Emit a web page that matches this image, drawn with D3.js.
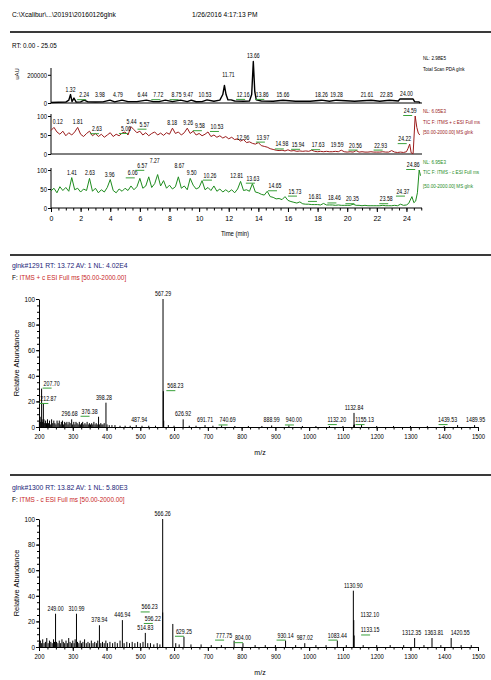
<!DOCTYPE html>
<html><head><meta charset="utf-8">
<script src="https://cdn.jsdelivr.net/npm/d3@7"></script>
<style>
body{margin:0;background:#fff;}
svg text{font-family:"Liberation Sans",Arial,sans-serif;}
</style></head><body><script>
// ================= DATA =================
const headerLeft = "C:\\Xcalibur\\...\\20191\\20160126glnk";
const headerDate = "1/26/2016 4:17:13 PM";
const rtRange = "RT: 0.00 - 25.05";
const timeTicks = [0,2,4,6,8,10,12,14,16,18,20,22,24];
const timeMinorTicks = [0,0.5,1,1.5,2,2.5,3,3.5,4,4.5,5,5.5,6,6.5,7,7.5,8,8.5,9,9.5,10,10.5,11,11.5,12,12.5,13,13.5,14,14.5,15,15.5,16,16.5,17,17.5,18,18.5,19,19.5,20,20.5,21,21.5,22,22.5,23,23.5,24,24.5,25];

// Panel 1: Total Scan PDA (time, uAU)
const ticTrace = [[0,4000],[0.5,5000],[1.0,6000],[1.2,20000],[1.32,60000],[1.42,10000],[1.55,35000],[1.7,6000],[2.0,8000],[2.24,20000],[2.5,8000],[3.0,7000],[3.5,8000],[3.98,20000],[4.3,8000],[4.79,20000],[5.2,10000],[5.8,10000],[6.44,20000],[6.9,10000],[7.3,10000],[7.72,20000],[8.2,10000],[8.75,20000],[9.2,10000],[9.47,20000],[9.8,9000],[10.2,10000],[10.53,22000],[11.0,12000],[11.4,20000],[11.6,60000],[11.71,125000],[11.82,60000],[11.95,22000],[12.16,22000],[12.4,14000],[13.0,12000],[13.4,14000],[13.55,60000],[13.66,295000],[13.76,80000],[13.86,22000],[14.2,14000],[15.0,12000],[15.66,20000],[16.5,12000],[17.5,12000],[18.26,20000],[18.8,12000],[19.28,20000],[20.5,12000],[21.61,20000],[22.2,12000],[22.85,20000],[23.45,14000],[23.55,28000],[24.00,28000],[24.45,28000],[24.55,10000],[24.85,8000],[24.92,0]];
const ticLabels = [1.32,2.24,3.98,4.79,6.44,7.72,8.75,9.47,10.53,11.71,12.16,13.66,13.86,15.66,18.26,19.28,21.61,22.85,24.00];
const ticInfo = ["NL: 2.98E5","Total Scan PDA glnk"];
const ticTicks = [0,200000];

// Panel 2 / 3: relative abundance sampled every 0.2 min from 0 to 24.0
const traceStep = 0.2;
const esPosValues = [62,70,58,52,60,48,56,50,58,70,
52,46,54,60,48,54,46,52,44,50,
56,46,52,48,55,58,50,72,64,56,
60,50,56,48,54,58,50,55,49,56,
52,68,54,58,50,56,68,54,60,50,
54,48,52,58,46,50,44,48,42,46,
40,44,38,40,34,38,30,32,28,26,
30,22,20,18,14,12,10,9,10,8,
11,8,9,7,8,7,8,7,10,7,
6,7,6,7,6,6,7,6,10,6,
5,6,5,9,5,6,5,5,6,5,
5,5,6,5,5,9,5,4,5,4,
6];
const esPosTail = [[24.1,14],[24.22,26],[24.32,3],[24.45,1],[24.59,100],[24.7,70],[24.8,55],[24.9,50]];
const esPosLabels = [0.12,1.81,2.63,5.06,5.44,5.57,8.18,9.26,9.58,10.53,12.96,13.97,14.98,15.94,17.63,19.59,20.56,22.93,24.22,24.59];
const esPosInfo = ["NL: 6.05E3","TIC F: ITMS + c ESI Full ms","[50.00-2000.00] MS glnk"];

const esNegValues = [45,52,40,56,46,54,44,80,48,52,
42,50,46,78,44,52,40,48,42,54,
75,46,40,50,44,52,46,58,48,56,
78,52,58,82,54,64,88,58,72,52,
60,50,56,82,52,58,48,78,60,50,
54,72,48,54,46,58,44,50,42,48,
42,48,40,50,70,46,48,44,64,42,
40,36,34,44,30,28,24,25,22,30,
20,17,15,13,16,11,10,10,9,9,
9,8,12,8,8,8,7,8,7,7,
7,7,10,7,7,6,7,6,6,6,
6,6,7,6,6,6,7,6,10,7,
8];
const esNegTail = [[24.15,12],[24.37,30],[24.5,14],[24.62,18],[24.74,40],[24.86,100],[24.95,85]];
const esNegLabels = [1.41,2.63,3.96,6.06,6.57,7.27,8.67,9.50,10.26,12.81,13.63,14.65,15.73,16.81,18.46,20.35,23.58,24.37,24.86];
const esNegInfo = ["NL: 6.95E3","TIC F: ITMS - c ESI Full ms","[50.00-2000.00] MS glnk"];
const pctTicks = [0,50,100];

// Mass spectra (m/z, relative abundance %)
const mzTicks = [200,300,400,500,600,700,800,900,1000,1100,1200,1300,1400,1500];
const abundTicks = [0,20,40,60,80,100];

const spec1Title = "glnk#1291  RT: 13.72  AV: 1  NL: 4.02E4";
const spec1Filter = "ITMS + c ESI Full ms [50.00-2000.00]";
const spec1Peaks = [[201.2,5],[203.4,8],[205.0,4],[207.70,30],[209.1,6],[211.0,4],[212.87,18],[214.6,6],[216.8,3],[219.5,5],[222.3,3],[225.1,6],[228.0,3],[231.2,5],[234.5,2],[237.3,6],[240.6,3],[243.9,5],[247.0,3],[250.2,2],[253.5,5],[256.7,3],[260.1,5],[263.0,2],[266.2,4],[269.5,5],[272.8,2],[276.0,4],[279.4,3],[282.6,4],[285.9,2],[289.0,4],[292.3,3],[296.68,6],[299.6,2],[303.0,4],[306.2,2],[309.5,4],[312.8,3],[316.0,2],[319.4,4],[322.7,2],[326.0,3],[329.3,4],[332.6,2],[336.0,3],[339.2,2],[342.5,4],[346.0,2],[349.3,3],[352.6,2],[356.0,3],[359.2,2],[362.5,4],[366.0,2],[369.3,3],[372.5,2],[376.38,8],[379.6,2],[383.0,3],[386.3,2],[389.5,2],[393.0,3],[398.28,19],[401.5,2],[408.0,1.5],[416.0,1.5],[425.0,1.5],[440.0,1],[455.0,1],[470.0,1],[487.94,1.5],[505,1],[525,1],[545,1],[567.29,100],[568.23,28],[569.3,5],[583.0,1.5],[600.0,1],[626.92,6],[645,1],[665,1],[691.71,1.5],[715,1],[740.69,1.2],[780,0.8],[820,0.8],[860,0.8],[888.99,1.2],[940.00,1.2],[980,0.8],[1020,0.8],[1060,0.8],[1100,0.8],[1132.20,1.5],[1132.84,11],[1134.0,2],[1155.13,1.5],[1200,0.8],[1250,0.8],[1300,0.8],[1350,0.8],[1400,0.8],[1439.53,1.5],[1489.95,1.5]];
const spec1Labels = [207.70,212.87,296.68,376.38,398.28,487.94,567.29,568.23,626.92,691.71,740.69,888.99,940.00,1132.20,1132.84,1155.13,1439.53,1489.95];

const spec2Title = "glnk#1300  RT: 13.82  AV: 1  NL: 5.80E3";
const spec2Filter = "ITMS - c ESI Full ms [50.00-2000.00]";
const spec2Peaks = [[201,3],[204,5],[207,3],[211,6],[215,3],[219,4],[223,7],[227,3],[231,5],[235,4],[239,3],[243,6],[246,4],[249.00,26],[252,4],[256,3],[260,5],[264,3],[268,6],[272,4],[276,3],[280,5],[284,3],[288,7],[292,4],[296,3],[300,5],[304,3],[307,6],[310.99,26],[314,4],[318,3],[322,5],[326,3],[330,4],[335,6],[340,3],[345,4],[350,3],[355,5],[360,3],[365,4],[370,3],[374,5],[378.94,17],[383,3],[388,4],[393,3],[398,5],[403,3],[410,4],[418,3],[425,4],[432,3],[440,5],[446.94,21],[452,3],[460,4],[468,3],[476,4],[484,3],[492,4],[500,3],[508,4],[514.83,11],[522,3],[530,3],[540,2],[550,3],[558,2],[566.23,27],[566.26,100],[596.22,18],[605,3],[615,2],[629.25,8],[650,2],[680,2],[710,1.5],[740,1.5],[777.75,5],[804.00,3],[840,1.5],[870,1.5],[900,1.5],[930.14,5],[960,1.5],[987.02,3],[1020,1.5],[1050,1.5],[1083.44,5],[1110,1.5],[1130.90,44],[1132.10,21],[1133.15,9],[1160,1.5],[1200,1.5],[1240,1.5],[1280,1.5],[1312.35,7],[1340,1.5],[1363.81,7],[1390,1.5],[1420.55,7],[1450,1.5],[1480,1.5]];
const spec2Labels = [249.00,310.99,378.94,446.94,514.83,566.26,566.23,596.22,629.25,777.75,804.00,930.14,987.02,1083.44,1130.90,1132.10,1133.15,1312.35,1363.81,1420.55];

// ================= STYLE / LAYOUT =================
const ticNudge = {"3.98":[-10,0],"4.79":[-4,0],"6.44":[-4,0],"7.72":[-7,0],"8.75":[-4,0],"9.47":[-3,0],"10.53":[-2,0],"11.71":[4,-5],"12.16":[12,0],"13.86":[6,0],"21.61":[-4,0],"22.85":[-3,0]};
const posNudge = {"0.12":[5,0],"2.63":[7,3],"5.06":[0,2],"5.57":[11,0],"9.58":[7,0],"10.53":[10,0],"12.96":[0,3],"13.97":[5,0],"14.98":[9,0],"15.94":[11,0],"17.63":[6,0],"19.59":[-4,0],"22.93":[-10,0],"24.22":[-5,0],"24.59":[-5,0]};
const negNudge = {"6.06":[-8,0],"6.57":[-6,-6],"7.27":[-4,-9],"8.67":[0,-6],"10.26":[7,0],"12.81":[-4,0],"14.65":[7,0],"15.73":[11,0],"16.81":[15,0],"18.46":[10,0],"23.58":[-14,0],"24.37":[-9,0],"24.86":[-6,0]};
const spec1Nudge = {"207.70":[10,0],"212.87":[5,0],"296.68":[-2,0],"376.38":[-9,0],"398.28":[-2,0],"487.94":[3,0],"568.23":[12,0],"740.69":[6,0],"940.00":[5,0],"1132.20":[-17,0],"1155.13":[3,0],"1439.53":[-10,0],"1489.95":[1,0]};
const spec2Nudge = {"249.00":[0,0],"566.23":[-13,0],"596.22":[-20,0],"777.75":[-10,0],"1132.10":[16,0],"1133.15":[16,0],"1312.35":[-3,0],"1363.81":[2,0],"1420.55":[9,0]};
const ticUnder = ["2.24","7.72","8.75","12.16","13.86"];
const posUnder = ["2.63","5.06","5.57","9.58","10.53","13.97","14.98","15.94","17.63","20.56","22.93","24.22","24.59"];
const negUnder = ["6.06","6.57","10.26","13.63","14.65","15.73","16.81","18.46","20.35","23.58","24.37","24.86"];
const spec1Under = ["207.70","212.87","376.38","568.23","740.69","940.00","1132.20","1155.13","1439.53"];
const spec2Under = ["566.23","596.22","629.25","777.75","804.00","930.14","1083.44","1133.15"];

const RED = "#9b1b1b", GREEN = "#1e8c1e", MARK = "#3aa03a";
const svg = d3.select("body").append("svg").attr("width",491).attr("height",680);
const f2 = d3.format(".2f");

function T(x,y,s,o={}){
  const t = svg.append("text").attr("x",x).attr("y",y).text(s)
    .attr("font-size",o.fs||7).attr("fill",o.fill||"#000")
    .attr("text-anchor",o.anchor||"start");
  if(o.rot) t.attr("transform",`rotate(${o.rot},${x},${y})`);
  if(o.cond){
    const w = t.node().getComputedTextLength();
    let target = w*o.cond;
    if(o.maxW) target = Math.min(target,o.maxW);
    t.attr("textLength",target).attr("lengthAdjust","spacingAndGlyphs");
  }
  return t;
}
function styleAxis(g, fs){
  g.selectAll("path.domain").attr("stroke","#000").attr("stroke-width",1);
  g.selectAll(".tick line").attr("stroke","#000");
  g.selectAll("text").attr("font-size",fs||7).attr("fill","#000")
   .attr("font-family","Liberation Sans, Arial, sans-serif");
}
function condense(g,k){
  g.selectAll("text").each(function(){const w=this.getComputedTextLength();
    d3.select(this).attr("textLength",w*k).attr("lengthAdjust","spacingAndGlyphs");});
}

// header
T(12,17,headerLeft,{fs:7,cond:0.95});
T(192,17,headerDate,{fs:7,cond:0.95});
[32,255,475].forEach(y=>svg.append("line").attr("x1",10).attr("x2",491).attr("y1",y).attr("y2",y)
  .attr("stroke","#3a3a3a").attr("stroke-width",2));
T(12,48,rtRange,{fs:7,cond:0.9});

// ================= CHROMATOGRAMS =================
const xT = d3.scaleLinear().domain([0,25.05]).range([51,422]);
const sampled = (vals, tail) => vals.map((v,i)=>[Math.round(i*traceStep*10)/10, v]).concat(tail);

const panels = [
  {trace:ticTrace, labels:ticLabels, info:ticInfo, color:"#000", infoColor:"#000",
   y:d3.scaleLinear().domain([0,298000]).range([103,61]), axisTop:68, ticks:ticTicks,
   nudge:ticNudge, under:ticUnder, win:0.03, sw:1.4, infoY:[60,70.5]},
  {trace:sampled(esPosValues,esPosTail), labels:esPosLabels, info:esPosInfo, color:RED, infoColor:RED,
   y:d3.scaleLinear().domain([0,100]).range([154,116]), axisTop:114, ticks:pctTicks,
   nudge:posNudge, under:posUnder, win:0.15, sw:1, infoY:[112.5,124,134]},
  {trace:sampled(esNegValues,esNegTail), labels:esNegLabels, info:esNegInfo, color:GREEN, infoColor:GREEN,
   y:d3.scaleLinear().domain([0,100]).range([208,170]), axisTop:168, ticks:pctTicks,
   nudge:negNudge, under:negUnder, win:0.15, sw:1, infoY:[164,174,187.5]}
];

panels.forEach(p=>{
  const ax = svg.append("g").attr("transform","translate(51,0)")
    .call(d3.axisLeft(p.y).tickValues(p.ticks).tickSize(3).tickSizeOuter(0).tickPadding(1)
      .tickFormat(d3.format("d")));
  ax.select("path.domain").remove();
  styleAxis(ax, 7); condense(ax,0.85);
  svg.append("line").attr("x1",51).attr("x2",51).attr("y1",p.y(0)).attr("y2",p.axisTop).attr("stroke","#000");
  svg.append("line").attr("x1",51).attr("x2",422).attr("y1",p.y(0)).attr("y2",p.y(0)).attr("stroke","#000");
  svg.append("path").datum(p.trace)
    .attr("d",d3.line().x(d=>xT(d[0])).y(d=>p.y(d[1])))
    .attr("fill","none").attr("stroke",p.color).attr("stroke-width",p.sw).attr("stroke-linejoin","round");
  p.labels.forEach(t=>{
    const key = f2(t);
    const near = p.trace.filter(d=>Math.abs(d[0]-t)<=p.win+1e-9);
    const v = d3.max(near,d=>d[1]) || 0;
    const n = p.nudge[key] || [0,0];
    const x = xT(t)+n[0], y = p.y(v)-3+n[1];
    if(p.under.includes(key)){
      svg.append("line").attr("x1",x-7).attr("x2",x+2).attr("y1",y+2.5).attr("y2",y+2.5)
        .attr("stroke",MARK).attr("stroke-width",1);
    }
    T(x,y,key,{fs:6.4,anchor:"middle",cond:0.8});
  });
  p.info.forEach((s,i)=>T(423,p.infoY[i],s,{fs:5.4,fill:p.infoColor,cond:0.85,maxW:62}));
});
// uAU label
T(19,74,"uAU",{fs:6,rot:-90,anchor:"middle"});

// time axis
const gx = svg.append("g").attr("transform","translate(0,208)")
  .call(d3.axisBottom(xT).tickValues(timeTicks).tickSize(4).tickSizeOuter(0).tickPadding(4).tickFormat(d3.format("d")));
gx.select("path.domain").remove();
styleAxis(gx,7);
const gxm = svg.append("g").attr("transform","translate(0,208)")
  .call(d3.axisBottom(xT).tickValues(timeMinorTicks).tickSize(2.5).tickSizeOuter(0).tickFormat(""));
gxm.select("path.domain").remove();
styleAxis(gxm,7);
T(235,236,"Time (min)",{fs:7,anchor:"middle",cond:0.85});

// ================= MASS SPECTRA =================
const xM = d3.scaleLinear().domain([200,1500]).range([39,478]);
function spectrum(c){
  const y = d3.scaleLinear().domain([0,100]).range([c.y0,c.y100]);
  T(12,c.titleY,c.title,{fs:6.8,fill:"#1c1c78"});
  const f = T(12,c.titleY+12,"F: ",{fs:6.4,fill:"#000"});
  f.append("tspan").attr("fill","#c81e1e").text(c.filter);
  // peaks
  svg.append("g").selectAll("line").data(c.peaks).join("line")
    .attr("x1",d=>xM(d[0])).attr("x2",d=>xM(d[0]))
    .attr("y1",y(0)).attr("y2",d=>y(d[1]))
    .attr("stroke","#000").attr("stroke-width",1);
  // axes
  const gy = svg.append("g").attr("transform",`translate(${xM(200)},0)`)
    .call(d3.axisLeft(y).tickValues(abundTicks).tickSize(3).tickSizeOuter(0).tickPadding(1));
  styleAxis(gy,7); condense(gy,0.9);
  const gym = svg.append("g").attr("transform",`translate(${xM(200)},0)`)
    .call(d3.axisLeft(y).tickValues(d3.range(0,101,5)).tickSize(2).tickSizeOuter(0).tickFormat(""));
  gym.select("path.domain").remove(); styleAxis(gym,7);
  const gxs = svg.append("g").attr("transform",`translate(0,${c.y0})`)
    .call(d3.axisBottom(xM).tickValues(mzTicks).tickSize(4).tickSizeOuter(0).tickPadding(3).tickFormat(d3.format("d")));
  styleAxis(gxs,7); condense(gxs,0.85);
  const gxsm = svg.append("g").attr("transform",`translate(0,${c.y0})`)
    .call(d3.axisBottom(xM).tickValues(d3.range(200,1501,25)).tickSize(2.5).tickSizeOuter(0).tickFormat(""));
  gxsm.select("path.domain").remove(); styleAxis(gxsm,7);
  T(19,(c.y0+c.y100)/2,"Relative Abundance",{fs:7.5,rot:-90,anchor:"middle"});
  T(260,c.y0+28,"m/z",{fs:7,anchor:"middle"});
  // labels
  c.labels.forEach(m=>{
    const key = f2(m);
    const pk = c.peaks.find(d=>Math.abs(d[0]-m)<1e-6);
    const n = c.nudge[key] || [0,0];
    const x = xM(m)+n[0], yy = y(pk[1])-3+n[1];
    if(c.under.includes(key)){
      svg.append("line").attr("x1",x-9).attr("x2",x).attr("y1",yy+2.5).attr("y2",yy+2.5)
        .attr("stroke",MARK).attr("stroke-width",1);
    }
    T(x,yy,key,{fs:6.6,anchor:"middle",cond:0.8});
  });
}
spectrum({title:spec1Title,filter:spec1Filter,titleY:268,peaks:spec1Peaks,labels:spec1Labels,
  nudge:spec1Nudge,under:spec1Under,y0:427,y100:299});
spectrum({title:spec2Title,filter:spec2Filter,titleY:490,peaks:spec2Peaks,labels:spec2Labels,
  nudge:spec2Nudge,under:spec2Under,y0:647,y100:519});
</script></body></html>
